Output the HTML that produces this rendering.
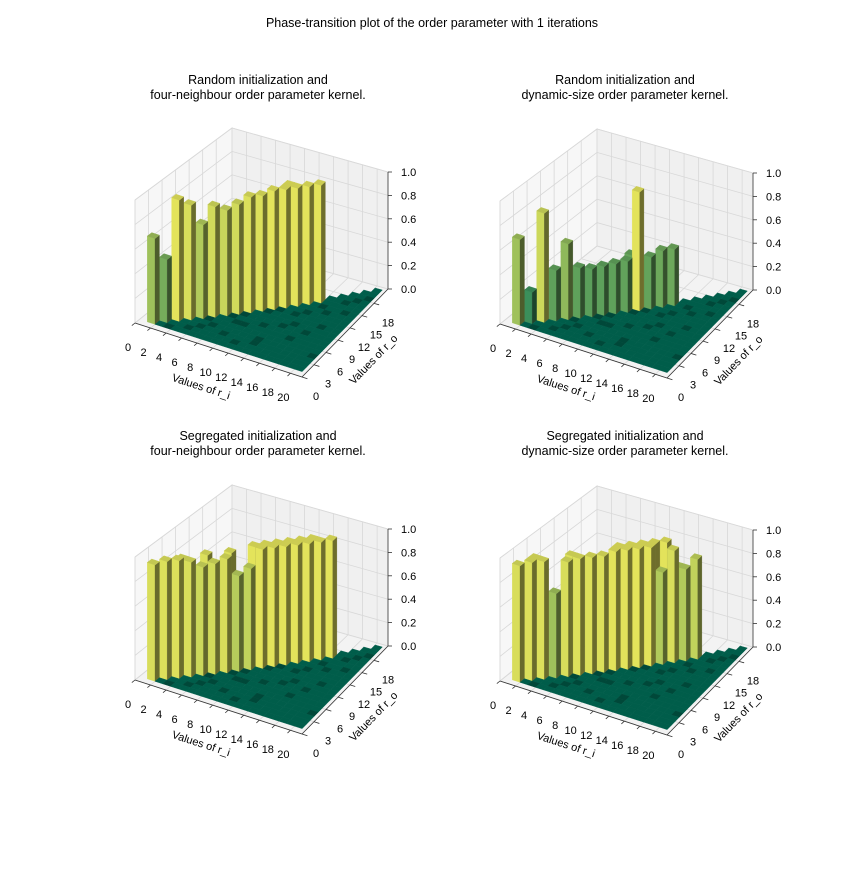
<!DOCTYPE html>
<html><head><meta charset="utf-8">
<style>
body{margin:0;background:#fff}
svg text{font-family:"Liberation Sans",sans-serif;fill:#000}
</style></head>
<body>
<svg id="chart" width="864" height="864" viewBox="0 0 864 864">
<text x="432" y="27" font-size="12.5" text-anchor="middle">Phase-transition plot of the order parameter with 1 iterations</text>
</svg>
<script>
// ---- data ----
const riTicks = [0,2,4,6,8,10,12,14,16,18,20];
const roTicks = [0,3,6,9,12,15,18];
const zTicks = [0.0,0.2,0.4,0.6,0.8,1.0];
const zTickLabels = ["0.0","0.2","0.4","0.6","0.8","1.0"];
// diagonal cells (r_o = r_i), r_i = 1..20
const diagRandFour = [0.70,0.52,1.0,0.95,0.78,0.92,0.88,0.92,0.97,0.97,1.0,1.0,1.0,1.0,1.0,0,0,0,0,0];
const diagRandDyn  = [0.70,0.26,0.90,0.42,0.63,0.42,0.40,0.41,0.42,0.43,1.0,0.44,0.48,0.48,0,0,0,0,0,0];
const diagSegFour  = [0.95,0.97,0.97,0.95,0.90,0.92,0.95,0.80,0.85,1.0,1.0,1.0,1.0,1.0,1.0,1.0,0,0,0,0];
const diagSegDyn   = [0.95,0.97,0.97,0.70,0.95,0.97,0.97,0.97,1.0,1.0,1.0,1.0,0.78,0.95,0.78,0.85,0,0,0,0];
// second row cells (r_o = r_i + 1)
const backRandFour = [0,0,0,0,0,0,0,0,0,0,0,1.0,0,0,0,0,0,0,0,0];
const backRandDyn  = [0,0,0,0.35,0,0,0,0,0,0.45,0,0,0,0,0,0,0,0,0,0];
const backSegFour  = [0,0,0.95,0,0.97,0,0.97,0,1.0,1.0,1.0,1.0,1.0,1.0,0,0,0,0,0,0];
const backSegDyn   = [0,0.97,0,0,0.97,0,0.9,0,1.0,1.0,1.0,1.0,1.0,0.78,0,0,0,0,0,0];
// floor cells rendered darker (r_i, r_o)
const darkCellsI = [3,5,6,6,9,9,10,8,9,12,11,13,14,15,14,16,17,15,18,19,17,20,18,12,16,19,20,11,13,7];
const darkCellsO = [1,2,3,5,3,6,6,7,8,7,10,4,8,9,11,6,8,12,10,14,13,4,16,11,14,17,18,2,3,4];

const titles = [
 ["Random initialization and","four-neighbour order parameter kernel."],
 ["Random initialization and","dynamic-size order parameter kernel."],
 ["Segregated initialization and","four-neighbour order parameter kernel."],
 ["Segregated initialization and","dynamic-size order parameter kernel."]];
const diags = [diagRandFour, diagRandDyn, diagSegFour, diagSegDyn];
const backs = [backRandFour, backRandDyn, backSegFour, backSegDyn];
const origins = [[0,0],[365,1],[0,357],[365,358]];
const titleX = [258,625,258,625];
const titleY = [84,84,440,440];

const NS="http://www.w3.org/2000/svg";
const svg=document.getElementById('chart');
const XMAX=21.5, YMAX=21.5;
// floor corners (left, front, right, back) and vertical scales for the first subplot
const CL=[135,323], CF=[302,377], CR=[388,289], CB=[232,245];
const ZL=123, ZF=120, ZR=117, ZB=117;

function mk(tag,attrs,parent){const e=document.createElementNS(NS,tag);for(const k in attrs)e.setAttribute(k,attrs[k]);(parent||svg).appendChild(e);return e;}
function summer(v){return [v*255,(0.5+0.5*v)*255,0.4*255];}
function shade(c,f){return 'rgb('+c.map(x=>Math.round(x*f)).join(',')+')';}

titles.forEach((t,k)=>{
 const [ox,oy]=origins[k];
 const P=(x,y,z)=>{
  const u=x/XMAX, v=y/YMAX;
  const a=(1-u)*(1-v), b=u*(1-v), c=u*v, d=(1-u)*v;
  const sx=CL[0]*a+CF[0]*b+CR[0]*c+CB[0]*d;
  const sy=CL[1]*a+CF[1]*b+CR[1]*c+CB[1]*d;
  const zs=ZL*a+ZF*b+ZR*c+ZB*d;
  return [ox+sx, oy+sy-zs*z];
 };
 const pts=a=>a.map(p=>p[0].toFixed(2)+','+p[1].toFixed(2)).join(' ');
 const g=mk('g',{});
 
 
 const t1=mk('text',{x:titleX[k],y:titleY[k],'font-size':12.5,'text-anchor':'middle'},g);
 t1.textContent=t[0];
 
 
 const t2=mk('text',{x:titleX[k],y:titleY[k]+15,'font-size':12.5,'text-anchor':'middle'},g);
 t2.textContent=t[1];
 
 
 // panes
 const floor=mk('polygon',{points:pts([P(0,0,0),P(XMAX,0,0),P(XMAX,YMAX,0),P(0,YMAX,0)]),fill:'#f3f3f3',stroke:'#e8e8e8'},g);
 
 
 const lp=mk('polygon',{points:pts([P(0,0,0),P(0,YMAX,0),P(0,YMAX,1),P(0,0,1)]),fill:'#f7f7f7',stroke:'#e8e8e8'},g);
 
 
 const bp=mk('polygon',{points:pts([P(0,YMAX,0),P(XMAX,YMAX,0),P(XMAX,YMAX,1),P(0,YMAX,1)]),fill:'#f0f0f0',stroke:'#e8e8e8'},g);
 
 
 const grid=mk('g',{stroke:'#d8d8d8','stroke-width':0.8},g);
 
 
 zTicks.forEach(z=>{mk('polyline',{points:pts([P(0,0,z),P(0,YMAX,z),P(XMAX,YMAX,z)]),fill:'none'},grid);});
 riTicks.forEach(x=>{mk('polyline',{points:pts([P(x,0,0),P(x,YMAX,0),P(x,YMAX,1)]),fill:'none'},grid);});
 roTicks.forEach(y=>{mk('polyline',{points:pts([P(XMAX,y,0),P(0,y,0),P(0,y,1)]),fill:'none'},grid);});
 // cells
 const diag=diags[k], back=backs[k];
 const vmax=Math.max(...diag,...back);
 const cells=[];
 for(let i=1;i<=20;i++){
  for(let o=1;o<i;o++){
   let dark=false;
   for(let d=0;d<darkCellsI.length;d++) if(darkCellsI[d]===i&&darkCellsO[d]===o) dark=true;
   cells.push({i,o,h:0,dark});
  }
  cells.push({i,o:i,h:diag[i-1],dark:false});
  if(back[i-1]>0 && i<20) cells.push({i,o:i+1,h:back[i-1],dark:false});
 }
 cells.sort((a,b)=>(a.i*0.5-a.o*0.866)-(b.i*0.5-b.o*0.866));
 const bars=mk('g',{},g);
 
 
 cells.forEach(c=>{
  const x0=c.i, x1=c.i+1, y0=c.o, y1=c.o+1, h=c.h;
  const col=summer(h/vmax);
  const cg=mk('g',{},bars);
  
  
  if(h>0){
   mk('polygon',{points:pts([P(x0,y0,0),P(x1,y0,0),P(x1,y0,h),P(x0,y0,h)]),fill:shade(col,0.89),stroke:shade(col,0.89),'stroke-width':0.3},cg);
   mk('polygon',{points:pts([P(x1,y0,0),P(x1,y1,0),P(x1,y1,h),P(x1,y0,h)]),fill:shade(col,0.43),stroke:shade(col,0.43),'stroke-width':0.3},cg);
  }
  const top=c.dark?'rgb(0,72,57)':shade(col,h>0?0.8:0.73);
  mk('polygon',{points:pts([P(x0,y0,h),P(x1,y0,h),P(x1,y1,h),P(x0,y1,h)]),fill:top,stroke:top,'stroke-width':0.4},cg);
 });
 // axes
 const ax=mk('g',{stroke:'#333','stroke-width':0.8},g);
 
 
 mk('polyline',{points:pts([P(0,0,0),P(XMAX,0,0)]),fill:'none'},ax);
 mk('polyline',{points:pts([P(XMAX,0,0),P(XMAX,YMAX,0)]),fill:'none'},ax);
 mk('polyline',{points:pts([P(XMAX,YMAX,0),P(XMAX,YMAX,1)]),fill:'none'},ax);
 riTicks.forEach((x,n)=>{
  const a=P(x,0,0), b=P(x,-0.7,0);
  mk('line',{x1:a[0],y1:a[1],x2:b[0],y2:b[1]},ax);
  const tx=mk('text',{x:a[0]-7,y:a[1]+28,'font-size':11,'text-anchor':'middle',stroke:'none'},g);
  tx.textContent=String(riTicks[n]);
  
  
 });
 roTicks.forEach((y,n)=>{
  const a=P(XMAX,y,0), b=P(XMAX+0.7,y,0);
  mk('line',{x1:a[0],y1:a[1],x2:b[0],y2:b[1]},ax);
  const tx=mk('text',{x:a[0]+14,y:a[1]+23,'font-size':11,'text-anchor':'middle',stroke:'none'},g);
  tx.textContent=String(roTicks[n]);
  
  
 });
 zTicks.forEach((z,n)=>{
  const a=P(XMAX,YMAX,z);
  mk('line',{x1:a[0],y1:a[1],x2:a[0]+4,y2:a[1]},ax);
  const tx=mk('text',{x:a[0]+13,y:a[1]+4,'font-size':11,stroke:'none'},g);
  tx.textContent=zTickLabels[n];
  
  
 });
 const xl=mk('text',{x:ox+200,y:oy+390,'font-size':11,'text-anchor':'middle',transform:'rotate(18 '+(ox+200)+' '+(oy+390)+')'},g);
 xl.textContent='Values of r_i';
 
 
 const yl=mk('text',{x:ox+376,y:oy+362,'font-size':11,'text-anchor':'middle',transform:'rotate(-46 '+(ox+376)+' '+(oy+362)+')'},g);
 yl.textContent='Values of r_o';
 
 
});
</script>
</body></html>
